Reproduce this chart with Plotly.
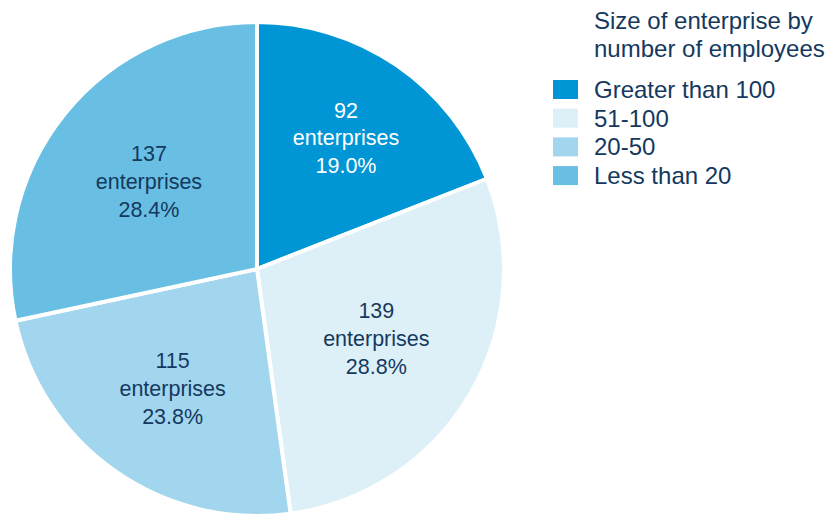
import plotly.graph_objects as go

categories = ["Greater than 100", "51-100", "20-50", "Less than 20"]
counts = [92, 139, 115, 137]
percent_labels = ["19.0%", "28.8%", "23.8%", "28.4%"]
legend_title_lines = ["Size of enterprise by", "number of employees"]
colors = ["#0096D6", "#DDF0F8", "#A2D6EE", "#68BFE3"]
text_colors = ["#FFFFFF", "#15395E", "#15395E", "#15395E"]
NAVY = "#15395E"
FONT = "Liberation Sans, Arial, sans-serif"

texts = [f"{c}<br>enterprises<br>{p}" for c, p in zip(counts, percent_labels)]

W, H = 827, 516
mt = 22
PH = H - mt


def px_x(x):
    return x / W


def px_y(y):
    return (H - y) / PH


fig = go.Figure(go.Pie(
    labels=categories,
    values=counts,
    text=texts,
    textinfo="text",
    textposition="inside",
    insidetextorientation="horizontal",
    textfont=dict(color=text_colors, size=21.5, family=FONT),
    marker=dict(colors=colors, line=dict(color="white", width=4)),
    sort=False,
    direction="clockwise",
    rotation=0,
    domain=dict(x=[0, 514 / W], y=[0, 1]),
    showlegend=False,
))

shapes = []
annotations = []
# legend title
for i, line in enumerate(legend_title_lines):
    annotations.append(dict(
        text=line, xref="paper", yref="paper",
        x=px_x(592), y=px_y(20 + 28 * i), xanchor="left", yanchor="middle",
        showarrow=False, font=dict(size=24, color=NAVY, family=FONT),
    ))
# legend entries
row0, step = 89.5, 28.7
for i, (cat, col) in enumerate(zip(categories, colors)):
    yc = row0 + step * i
    shapes.append(dict(
        type="rect", xref="paper", yref="paper",
        x0=px_x(553), x1=px_x(578), y0=px_y(yc + 9.5), y1=px_y(yc - 9.5),
        fillcolor=col, line=dict(width=0),
    ))
    annotations.append(dict(
        text=cat, xref="paper", yref="paper",
        x=px_x(592), y=px_y(yc), xanchor="left", yanchor="middle",
        showarrow=False, font=dict(size=24, color=NAVY, family=FONT),
    ))

fig.update_layout(
    width=W, height=H,
    margin=dict(l=0, r=0, t=mt, b=0),
    paper_bgcolor="white",
    font=dict(family=FONT, color=NAVY),
    shapes=shapes,
    annotations=annotations,
)

fig.write_html("out.html")
